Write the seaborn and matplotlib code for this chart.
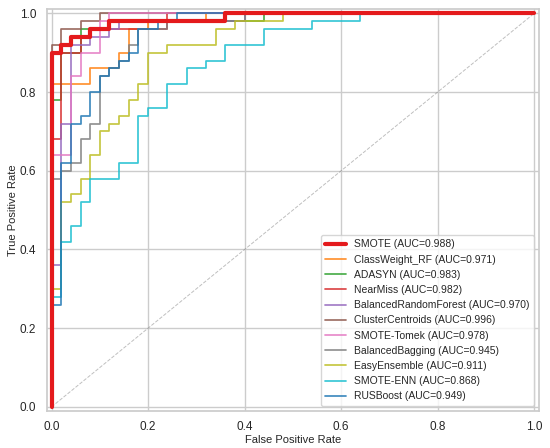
import numpy as np
import pandas as pd
import matplotlib
matplotlib.use("Agg")
import matplotlib.pyplot as plt
import seaborn as sns

# ==============================
# ROC DATA
# ==============================

models = ["SMOTE", "ClassWeight_RF", "ADASYN", "NearMiss", "BalancedRandomForest",
          "ClusterCentroids", "SMOTE-Tomek", "BalancedBagging", "EasyEnsemble",
          "SMOTE-ENN", "RUSBoost"]

auc_values = [0.988, 0.971, 0.983, 0.982, 0.970, 0.996, 0.978, 0.945, 0.911, 0.868, 0.949]

# step points (drawn with steps-post)
fpr_smote = [0, 0, 0.02, 0.04, 0.08, 0.12, 0.36, 1.0]
tpr_smote = [0, 0.90, 0.92, 0.94, 0.96, 0.98, 1.0, 1.0]

fpr_cw = [0, 0, 0.08, 0.14, 0.16, 0.20, 0.32, 1.0]
tpr_cw = [0, 0.82, 0.86, 0.90, 0.96, 0.98, 1.0, 1.0]

fpr_adasyn = [0, 0, 0.02, 0.06, 0.12, 0.44, 1.0]
tpr_adasyn = [0, 0.78, 0.90, 0.96, 0.98, 1.0, 1.0]

fpr_nearmiss = [0, 0, 0.02, 0.06, 0.08, 0.24, 1.0]
tpr_nearmiss = [0, 0.68, 0.90, 0.94, 0.96, 1.0, 1.0]

fpr_brf = [0, 0, 0.02, 0.04, 0.08, 0.12, 0.14, 0.40, 1.0]
tpr_brf = [0, 0.36, 0.72, 0.92, 0.94, 0.96, 0.98, 1.0, 1.0]

fpr_cc = [0, 0, 0.02, 0.06, 0.10, 1.0]
tpr_cc = [0, 0.92, 0.96, 0.98, 1.0, 1.0]

fpr_tomek = [0, 0, 0.04, 0.06, 0.10, 0.12, 1.0]
tpr_tomek = [0, 0.64, 0.84, 0.90, 0.98, 1.0, 1.0]

fpr_bb = [0, 0, 0.02, 0.04, 0.06, 0.08, 0.10, 0.12, 0.14, 0.16, 0.18, 0.24, 0.40, 1.0]
tpr_bb = [0, 0.58, 0.60, 0.62, 0.68, 0.72, 0.84, 0.86, 0.88, 0.92, 0.96, 0.98, 1.0, 1.0]

fpr_ee = [0, 0, 0.02, 0.04, 0.06, 0.08, 0.10, 0.12, 0.14, 0.16, 0.18, 0.20, 0.24, 0.34, 0.38, 0.48, 1.0]
tpr_ee = [0, 0.30, 0.52, 0.54, 0.58, 0.64, 0.70, 0.72, 0.74, 0.78, 0.82, 0.90, 0.92, 0.96, 0.98, 1.0, 1.0]

fpr_enn = [0, 0, 0.02, 0.04, 0.06, 0.08, 0.14, 0.18, 0.20, 0.24, 0.28, 0.32, 0.36, 0.44, 0.54, 0.64, 1.0]
tpr_enn = [0, 0.28, 0.42, 0.46, 0.52, 0.58, 0.62, 0.74, 0.76, 0.82, 0.86, 0.88, 0.92, 0.96, 0.98, 1.0, 1.0]

fpr_rus = [0, 0, 0.02, 0.04, 0.06, 0.08, 0.10, 0.12, 0.14, 0.16, 0.18, 0.22, 0.26, 1.0]
tpr_rus = [0, 0.26, 0.62, 0.72, 0.74, 0.80, 0.84, 0.86, 0.88, 0.90, 0.96, 0.98, 1.0, 1.0]

curves = [
    (fpr_smote, tpr_smote), (fpr_cw, tpr_cw), (fpr_adasyn, tpr_adasyn),
    (fpr_nearmiss, tpr_nearmiss), (fpr_brf, tpr_brf), (fpr_cc, tpr_cc),
    (fpr_tomek, tpr_tomek), (fpr_bb, tpr_bb), (fpr_ee, tpr_ee),
    (fpr_enn, tpr_enn), (fpr_rus, tpr_rus),
]

# ==============================
# PLOT
# ==============================

sns.set_theme(style="whitegrid")
plt.rcParams["font.family"] = ["Liberation Sans", "DejaVu Sans"]

colors = sns.color_palette("tab10")

fig, ax = plt.subplots(figsize=(5.5, 4.48), dpi=100)
fig.subplots_adjust(left=0.085, right=0.98, top=0.979, bottom=0.083)

for i, (name, auc, (fpr, tpr)) in enumerate(zip(models, auc_values, curves)):
    df = pd.DataFrame({"fpr": fpr, "tpr": tpr})
    if name == "SMOTE":
        color, lw, alpha, z = "#e41a1c", 3, 1.0, 10
    else:
        color, lw, alpha, z = colors[i % 10], 1.25, 0.85, 2
    sns.lineplot(data=df, x="fpr", y="tpr", ax=ax, sort=False, estimator=None,
                 drawstyle="steps-post", color=color, linewidth=lw, alpha=alpha,
                 zorder=z, label=f"{name} (AUC={auc:.3f})")

ax.plot([0, 1], [0, 1], linestyle="--", color="gray", linewidth=0.7, alpha=0.5)

ax.set_xlim(-0.01, 1.01)
ax.set_ylim(-0.01, 1.01)
ax.set_xlabel("False Positive Rate", fontsize=8, labelpad=1)
ax.set_ylabel("True Positive Rate", fontsize=8, labelpad=1)
ax.tick_params(axis="both", labelsize=8.5, pad=1.5)

ax.legend(loc="lower right", fontsize=7.5)

plt.savefig("out.png", dpi=100)
